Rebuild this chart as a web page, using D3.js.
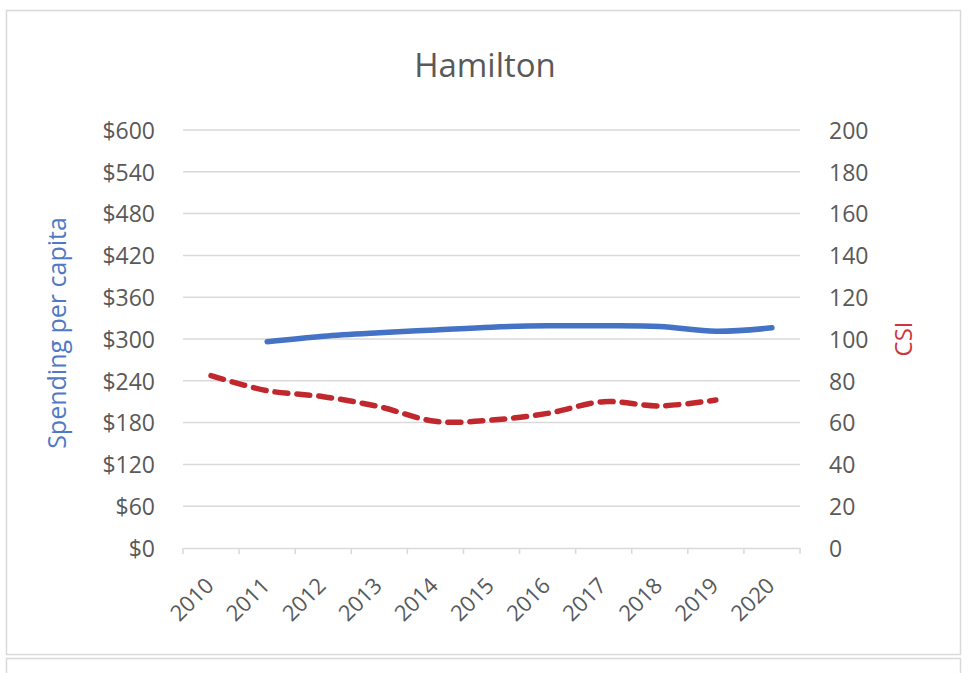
<!DOCTYPE html>
<html>
<head>
<meta charset="utf-8">
<script src="https://cdn.jsdelivr.net/npm/d3@7"></script>
<style>
  html, body { margin: 0; padding: 0; background: #fff; }
  svg { display: block; font-family: "Open Sans", "Noto Sans", sans-serif; }
</style>
</head>
<body>
<svg id="chart" width="968" height="673"></svg>
<script>
const title = "Hamilton";
const years = ["2010","2011","2012","2013","2014","2015","2016","2017","2018","2019","2020"];
// Spending per capita ($), left axis; null where no data
const spending = [null, 296, 304, 309, 313, 317, 319, 319, 318, 311, 316];
// CSI, right axis
const csi = [82.5, 75.3, 72.4, 67.6, 60.6, 61.2, 64.4, 70.0, 68.0, 70.8, null];
const leftTicks = [0, 60, 120, 180, 240, 300, 360, 420, 480, 540, 600];
const rightTicks = [0, 20, 40, 60, 80, 100, 120, 140, 160, 180, 200];
const leftLabel = "Spending per capita";
const rightLabel = "CSI";

const FONT = '"Open Sans", "Noto Sans", sans-serif';
const svg = d3.select("#chart");
const plot = { left: 183, right: 800, top: 130, bottom: 548 };

// outer chart frame
svg.append("rect").attr("x", 6.5).attr("y", 10.5).attr("width", 954).attr("height", 644)
  .attr("fill", "#fff").attr("stroke", "#d9d9d9").attr("stroke-width", 1.5);
// next panel edge below
svg.append("path").attr("d", `M6.5,673 V658.5 H960.5 V673`)
  .attr("fill", "none").attr("stroke", "#d9d9d9").attr("stroke-width", 1.5);

const x = d3.scaleBand().domain(years).range([plot.left, plot.right]);
const yL = d3.scaleLinear().domain([0, 600]).range([plot.bottom, plot.top]);
const yR = d3.scaleLinear().domain([0, 200]).range([plot.bottom, plot.top]);

const tickColor = "#595959";
const gridColor = "#d9d9d9";

// gridlines
svg.append("g").selectAll("line").data(leftTicks.filter(d => d > 0)).join("line")
  .attr("x1", plot.left).attr("x2", plot.right)
  .attr("y1", d => yL(d)).attr("y2", d => yL(d))
  .attr("stroke", gridColor).attr("stroke-width", 1.5);

// x axis
const gx = svg.append("g").attr("transform", `translate(0,${plot.bottom})`)
  .call(d3.axisBottom(x).tickSize(0).tickPadding(0));
gx.attr("font-family", FONT);
gx.select(".domain").attr("stroke", gridColor).attr("stroke-width", 1.5);
gx.selectAll(".tick text")
  .attr("fill", tickColor).attr("font-size", 22)
  .attr("text-anchor", "end")
  .attr("y", 0).attr("dy", 0)
  .attr("transform", "translate(4,39) rotate(-45)");
// boundary tick marks
const bounds = years.map(d => x(d)).concat([x(years[years.length - 1]) + x.bandwidth()]);
svg.append("g").selectAll("line").data(bounds).join("line")
  .attr("x1", d => d).attr("x2", d => d)
  .attr("y1", plot.bottom).attr("y2", plot.bottom + 6)
  .attr("stroke", gridColor).attr("stroke-width", 1.5);

// left axis labels
const gl = svg.append("g").attr("transform", `translate(${plot.left},0)`)
  .call(d3.axisLeft(yL).tickValues(leftTicks).tickSize(0).tickPadding(28).tickFormat(d => "$" + d));
gl.attr("font-family", FONT);
gl.select(".domain").remove();
gl.selectAll(".tick text").attr("fill", tickColor).attr("font-size", 23).attr("dy", "0.36em");

// right axis labels
const gr = svg.append("g").attr("transform", `translate(${plot.right},0)`)
  .call(d3.axisRight(yR).tickValues(rightTicks).tickSize(0).tickPadding(29));
gr.attr("font-family", FONT);
gr.select(".domain").remove();
gr.selectAll(".tick text").attr("fill", tickColor).attr("font-size", 23).attr("dy", "0.36em");

// title
svg.append("text").attr("x", 485).attr("y", 77).attr("text-anchor", "middle")
  .attr("font-size", 33).attr("fill", "#595959").text(title);

// axis titles
svg.append("text").attr("transform", `translate(66,333) rotate(-90)`)
  .attr("text-anchor", "middle").attr("font-size", 25).attr("fill", "#4f79c4").text(leftLabel);
svg.append("text").attr("transform", `translate(912,339) rotate(-90)`)
  .attr("text-anchor", "middle").attr("font-size", 24).attr("fill", "#d0343c").text(rightLabel);

// lines
const cx = d => x(d) + x.bandwidth() / 2;
const spendLine = d3.line()
  .defined((d, i) => spending[i] != null)
  .x((d, i) => cx(years[i])).y((d, i) => yL(spending[i]))
  .curve(d3.curveCatmullRom.alpha(0.5));
svg.append("path").datum(years).attr("d", spendLine)
  .attr("fill", "none").attr("stroke", "#4472c4").attr("stroke-width", 5.5)
  .attr("stroke-linecap", "round").attr("stroke-linejoin", "round");

const csiLine = d3.line()
  .defined((d, i) => csi[i] != null)
  .x((d, i) => cx(years[i])).y((d, i) => yR(csi[i]))
  .curve(d3.curveCatmullRom.alpha(0.5));
svg.append("path").datum(years).attr("d", csiLine)
  .attr("fill", "none").attr("stroke", "#c0282d").attr("stroke-width", 5.5)
  .attr("stroke-dasharray", "13,9")
  .attr("stroke-linecap", "round").attr("stroke-linejoin", "round");
</script>
</body>
</html>
